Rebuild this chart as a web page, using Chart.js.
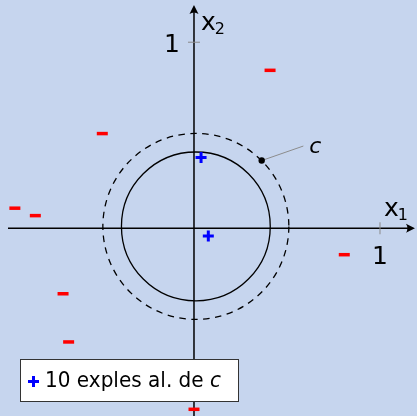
<!DOCTYPE html>
<html>
<head>
<meta charset="utf-8">
<script src="https://cdn.jsdelivr.net/npm/chart.js@4/dist/chart.umd.min.js"></script>
<style>
  html, body { margin: 0; padding: 0; background: #c6d5ee; }
  #wrap { width: 417px; height: 416px; }
</style>
</head>
<body>
<div id="wrap"><canvas id="plane" width="417" height="416"></canvas></div>
<script>
// examples labelled + (inside c) and - (outside c)
const posX = [0.038, 0.077];
const posY = [0.380, -0.042];
const negX = [0.409, -0.493, -0.963, -0.853, 0.808, -0.704, -0.674, 0.000];
const negY = [0.849, 0.509, 0.108, 0.068, -0.142, -0.352, -0.611, -0.973];

// concept c (solid) and its margin (dashed)
const circleCenter = [0.01, 0.01];
const circleRadii = [0.4, 0.5];

// pointer to the concept label
const cPoint = [0.364, 0.364];
const cLabelEnd = [0.588, 0.442];

const xTicks = [1];
const yTicks = [1];
const axisNames = ['x', 'x'];
const axisSubs = ['1', '2'];
const legendText = '10 exples al. de ';

const FONT = '"DejaVu Sans", sans-serif';

function arrowHead(ctx, x, y, dir) {
    // dir: 'right' or 'up'
    ctx.save();
    ctx.translate(x, y);
    if (dir === 'up') ctx.rotate(-Math.PI / 2);
    ctx.beginPath();
    ctx.moveTo(0, 0);
    ctx.lineTo(-9, -4.5);
    ctx.quadraticCurveTo(-6, 0, -9, 4.5);
    ctx.closePath();
    ctx.fillStyle = '#000';
    ctx.fill();
    ctx.restore();
}

const planePlugin = {
    id: 'plane',
    beforeDatasetsDraw(chart) {
        const ctx = chart.ctx;
        const xs = chart.scales.x, ys = chart.scales.y;
        const cx = xs.getPixelForValue(circleCenter[0]);
        const cy = ys.getPixelForValue(circleCenter[1]);
        ctx.save();

        // circles
        circleRadii.forEach((r, i) => {
            const rx = xs.getPixelForValue(circleCenter[0] + r) - cx;
            const ry = cy - ys.getPixelForValue(circleCenter[1] + r);
            ctx.beginPath();
            ctx.ellipse(cx, cy, rx, ry, 0, 0, Math.PI * 2);
            ctx.lineWidth = 1.3;
            ctx.strokeStyle = '#000';
            ctx.setLineDash(i === 0 ? [] : [6.5, 5.5]);
            ctx.stroke();
        });
        ctx.setLineDash([]);

        // axes
        const ox = xs.getPixelForValue(0), oy = ys.getPixelForValue(0);
        const xEnd = xs.getPixelForValue(1.188);
        const yEnd = ys.getPixelForValue(1.2);
        ctx.lineWidth = 1.5;
        ctx.strokeStyle = '#000';
        ctx.beginPath();
        ctx.moveTo(xs.getPixelForValue(-1.0), oy);
        ctx.lineTo(xEnd - 4, oy);
        ctx.moveTo(ox, ys.getPixelForValue(-1.05));
        ctx.lineTo(ox, yEnd + 4);
        ctx.stroke();
        arrowHead(ctx, xEnd, oy, 'right');
        arrowHead(ctx, ox, yEnd, 'up');

        // ticks
        ctx.strokeStyle = '#8a8a8a';
        ctx.lineWidth = 1;
        ctx.fillStyle = '#000';
        ctx.font = '25px ' + FONT;
        xTicks.forEach(t => {
            const px = xs.getPixelForValue(t);
            ctx.beginPath();
            ctx.moveTo(px, oy - 6);
            ctx.lineTo(px, oy + 6);
            ctx.stroke();
            ctx.textAlign = 'center';
            ctx.textBaseline = 'alphabetic';
            ctx.fillText(String(t), px, oy + 36);
        });
        yTicks.forEach(t => {
            const py = ys.getPixelForValue(t);
            ctx.beginPath();
            ctx.moveTo(ox - 6, py);
            ctx.lineTo(ox + 6, py);
            ctx.stroke();
            ctx.textAlign = 'center';
            ctx.textBaseline = 'alphabetic';
            ctx.fillText(String(t), ox - 22, py + 10);
        });

        // axis names with subscripts
        const names = [
            [xs.getPixelForValue(1.0) + 4, oy - 12],
            [ox + 7, ys.getPixelForValue(1.0) - 12]
        ];
        names.forEach((p, i) => {
            ctx.textAlign = 'left';
            ctx.font = '25px ' + FONT;
            ctx.fillText(axisNames[i], p[0], p[1]);
            const w = ctx.measureText(axisNames[i]).width;
            ctx.font = '16px ' + FONT;
            ctx.fillText(axisSubs[i], p[0] + w - 1, p[1] + 4);
        });
        ctx.restore();
    },
    afterDatasetsDraw(chart) {
        const ctx = chart.ctx;
        const xs = chart.scales.x, ys = chart.scales.y;
        ctx.save();

        // concept label
        ctx.fillStyle = '#000';
        ctx.font = 'italic 22px ' + FONT;
        ctx.textAlign = 'left';
        ctx.textBaseline = 'middle';
        ctx.fillText('c', xs.getPixelForValue(cLabelEnd[0]) + 6, ys.getPixelForValue(cLabelEnd[1]) + 1);

        // legend box
        const bx = 20.5, by = 359.5, bw = 218, bh = 42;
        ctx.fillStyle = '#fff';
        ctx.fillRect(bx, by, bw, bh);
        ctx.strokeStyle = '#333';
        ctx.lineWidth = 1;
        ctx.strokeRect(bx, by, bw, bh);

        // legend marker
        ctx.strokeStyle = '#0000ff';
        ctx.lineWidth = 3;
        ctx.beginPath();
        ctx.moveTo(28, 381.5); ctx.lineTo(39, 381.5);
        ctx.moveTo(33.5, 376); ctx.lineTo(33.5, 387);
        ctx.stroke();

        ctx.fillStyle = '#000';
        ctx.textBaseline = 'alphabetic';
        ctx.font = '22px ' + FONT;
        ctx.save();
        const tw = ctx.measureText(legendText).width;
        const sx = 165 / tw;
        ctx.translate(45, 387);
        ctx.scale(sx, 1);
        ctx.fillText(legendText, 0, 0);
        ctx.font = 'italic 22px ' + FONT;
        ctx.fillText('c', tw, 0);
        ctx.restore();
        ctx.restore();
    }
};

const toPoints = (xs, ys) => xs.map((x, i) => ({ x: x, y: ys[i] }));

new Chart(document.getElementById('plane'), {
    type: 'scatter',
    data: {
        datasets: [
            {
                label: 'c',
                type: 'line',
                data: [{ x: cPoint[0], y: cPoint[1] }, { x: cLabelEnd[0], y: cLabelEnd[1] }],
                borderColor: '#8c8c8c',
                borderWidth: 1,
                pointRadius: [3.2, 0],
                pointBackgroundColor: '#000',
                pointBorderWidth: 0,
                order: 3
            },
            {
                label: '+',
                data: toPoints(posX, posY),
                pointStyle: 'cross',
                pointRadius: 5.5,
                borderColor: '#0000ff',
                borderWidth: 3,
                order: 1
            },
            {
                label: '-',
                data: toPoints(negX, negY),
                pointStyle: 'line',
                pointRadius: 5.5,
                borderColor: '#ff0000',
                borderWidth: 3.5,
                order: 2
            }
        ]
    },
    options: {
        responsive: false,
        animation: false,
        layout: { padding: 0, autoPadding: false },
        plugins: { legend: { display: false }, tooltip: { enabled: false } },
        scales: {
            x: { type: 'linear', min: -1.043, max: 1.199, display: false },
            y: { type: 'linear', min: -1.009, max: 1.227, display: false }
        }
    },
    plugins: [planePlugin]
});
</script>
</body>
</html>
